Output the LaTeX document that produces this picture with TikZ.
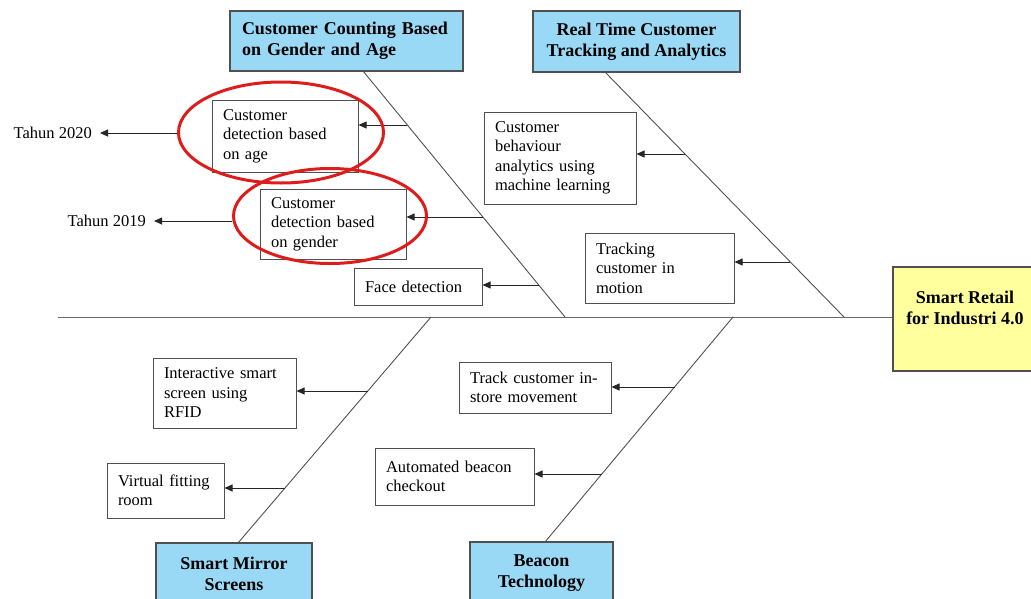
\documentclass[tikz,border=0pt]{standalone}
\usepackage{fontspec}
\setmainfont{Liberation Serif}
\usetikzlibrary{shapes.geometric,arrows.meta,calc}
\definecolor{tblue}{RGB}{153,217,245}
\definecolor{tyellow}{RGB}{255,255,158}
\definecolor{ered}{RGB}{222,28,28}
\definecolor{lgray}{RGB}{80,80,80}
\definecolor{sgray}{RGB}{105,105,105}
\begin{document}
\begin{tikzpicture}[x=1pt,y=-1pt,
 item/.style={draw=lgray, line width=1pt, fill=white, inner xsep=11pt, inner ysep=0pt, align=left, font=\fontsize{16.5}{19.5}\selectfont},
 cause/.style={draw=lgray, line width=1.2pt, fill=tblue, inner sep=0pt, font=\bfseries\fontsize{18}{21}\selectfont},
 bone/.style={draw=lgray, line width=0.9pt},
 arr/.style={draw=black!85, line width=0.8pt, -{Triangle[length=8pt,width=7pt]}},
 ring/.style={draw=ered, line width=3pt, ellipse, inner sep=0pt},
 year/.style={inner xsep=8pt, inner ysep=2pt, font=\fontsize{16.5}{19.5}\selectfont}
]
\useasboundingbox (0,0) rectangle (1031,598);

% head
\node[draw=lgray, line width=1.2pt, fill=tyellow, minimum width=144, minimum height=104, inner sep=0pt] (retail) at (965,319) {};
\node[font=\bfseries\fontsize{18}{21}\selectfont, align=center, inner sep=0pt] (retailtxt) at ($(retail.center)+(0,-11)$) {Smart Retail\\for Industri 4.0};

% spine
\coordinate (spineL) at (58,317);
\draw[draw=sgray, line width=1pt] (spineL) -- (spineL -| retail.west);

% bones
\coordinate (b1t) at (363,71);  \coordinate (b1b) at (565,317);
\coordinate (b2t) at (605,72);  \coordinate (b2b) at (844,317);
\coordinate (b3t) at (431,317); \coordinate (b3b) at (238,543);
\coordinate (b4t) at (733,317); \coordinate (b4b) at (545,542);
\draw[bone] (b1t) -- (b1b);
\draw[bone] (b2t) -- (b2b);
\draw[bone] (b3t) -- (b3b);
\draw[bone] (b4t) -- (b4b);

% cause boxes
\node[cause, minimum width=233, minimum height=60, align=left, text width=209pt] (c1) at (346.5,41) {Customer Counting Based\\on Gender and Age};
\node[cause, minimum width=207, minimum height=61, align=center] (c2) at (636.5,41.5) {Real Time Customer\\Tracking and Analytics};
\node[cause, minimum width=156, minimum height=62, align=center] (c3) at (234,574) {Smart Mirror\\Screens};
\node[cause, minimum width=143, minimum height=63, align=center] (c4) at (541.5,573.5) {Beacon\\Technology};

% item boxes
\node[item, minimum width=146, minimum height=72, text width=124pt] (age) at (285,136) {Customer\\detection based\\on age};
\node[item, minimum width=146, minimum height=70, text width=124pt] (gender) at (333,224) {Customer\\detection based\\on gender};
\node[item, minimum width=128, minimum height=37, text width=106pt] (face) at (418,286.5) {Face detection};
\node[item, minimum width=152, minimum height=92, text width=130pt] (behav) at (560,158) {Customer\\behaviour\\analytics using\\machine learning};
\node[item, minimum width=149, minimum height=70, text width=127pt] (motion) at (659.5,268) {Tracking\\customer in\\motion};
\node[item, minimum width=143, minimum height=70, text width=121pt] (inter) at (224.5,393) {Interactive smart\\screen using\\RFID};
\node[item, minimum width=117, minimum height=55, text width=95pt] (fitting) at (165.5,490.5) {Virtual fitting\\room};
\node[item, minimum width=152, minimum height=51, text width=130pt] (instore) at (535,387.5) {Track customer in-\\store movement};
\node[item, minimum width=159, minimum height=57, text width=137pt] (checkout) at (454.5,476.5) {Automated beacon\\checkout};

% arrow origins on bones
\coordinate (p1) at ($(b1t)!{(125-71)/246}!(b1b)$);
\coordinate (p2) at ($(b1t)!{(217-71)/246}!(b1b)$);
\coordinate (p3) at ($(b1t)!{(285-71)/246}!(b1b)$);
\coordinate (q1) at ($(b2t)!{(154-72)/245}!(b2b)$);
\coordinate (q2) at ($(b2t)!{(262-72)/245}!(b2b)$);
\coordinate (r1) at ($(b3t)!{(391-317)/226}!(b3b)$);
\coordinate (r2) at ($(b3t)!{(488-317)/226}!(b3b)$);
\coordinate (s1) at ($(b4t)!{(387-317)/225}!(b4b)$);
\coordinate (s2) at ($(b4t)!{(474-317)/225}!(b4b)$);

\draw[arr] (p1) -- (p1 -| age.east);
\draw[arr] (p2) -- (p2 -| gender.east);
\draw[arr] (p3) -- (p3 -| face.east);
\draw[arr] (q1) -- (q1 -| behav.east);
\draw[arr] (q2) -- (q2 -| motion.east);
\draw[arr] (r1) -- (r1 -| inter.east);
\draw[arr] (r2) -- (r2 -| fitting.east);
\draw[arr] (s1) -- (s1 -| instore.east);
\draw[arr] (s2) -- (s2 -| checkout.east);

% red rings
\node[ring, minimum width=205, minimum height=101] (e1) at (281,132.5) {};
\node[ring, minimum width=193, minimum height=95] (e2) at (330,216) {};

% year labels
\node[year, anchor=east] (t2020) at (100,133) {Tahun 2020};
\node[year, anchor=east] (t2019) at (154,221) {Tahun 2019};
\draw[arr] (t2020.east -| e1.west) -- (t2020.east);
\draw[arr] (t2019.east -| e2.west) -- (t2019.east);
\end{tikzpicture}
\end{document}
